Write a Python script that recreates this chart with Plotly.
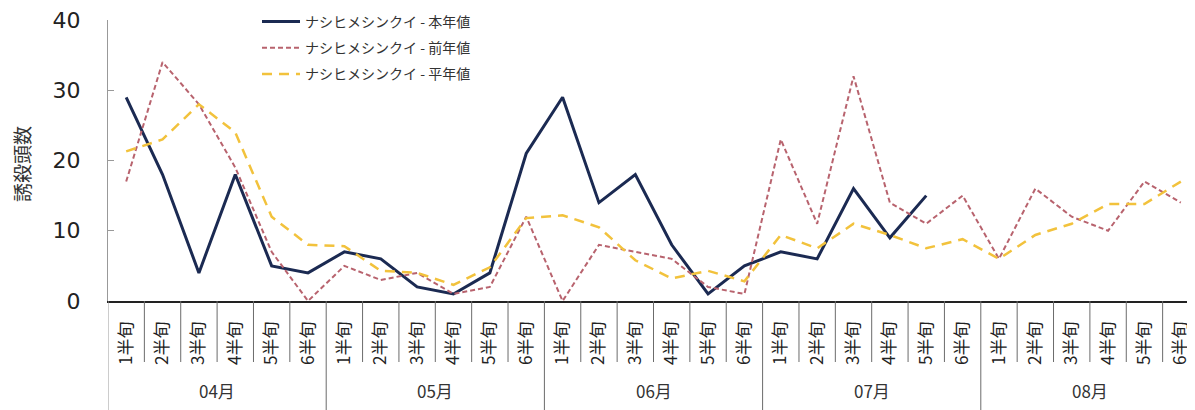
import plotly.graph_objects as go

months = ["04月", "05月", "06月", "07月", "08月"]
halves = ["1半旬", "2半旬", "3半旬", "4半旬", "5半旬", "6半旬"]

this_year = [29, 18, 4, 18, 5, 4,
             7, 6, 2, 1, 4, 21,
             29, 14, 18, 8, 1, 5,
             7, 6, 16, 9, 15, None,
             None, None, None, None, None, None]
prev_year = [17, 34, 28, 19, 7, 0,
             5, 3, 4, 1, 2, 12,
             0, 8, 7, 6, 2, 1,
             23, 11, 32, 14, 11, 15,
             6, 16, 12, 10, 17, 14]
normal_year = [21.3, 23, 28, 24, 12, 8,
               7.8, 4.3, 4, 2.3, 4.8, 11.8,
               12.2, 10.5, 5.8, 3.2, 4.3, 2.8,
               9.4, 7.5, 11, 9.4, 7.5, 8.8,
               6, 9.4, 11, 13.8, 13.8, 17]

series_names = ["ナシヒメシンクイ - 本年値", "ナシヒメシンクイ - 前年値", "ナシヒメシンクイ - 平年値"]

n = len(months) * len(halves)
xs = list(range(n))
tick_text = [h for m in months for h in halves]

fig = go.Figure()
fig.add_trace(go.Scatter(x=xs, y=this_year, mode="lines", name=series_names[0],
                         line=dict(color="#1B2A52", width=3), legendgroup="a",
                         connectgaps=False))
fig.add_trace(go.Scatter(x=xs, y=prev_year, mode="lines", name=series_names[1],
                         line=dict(color="#B8636E", width=2, dash="5px,3px"), legendgroup="b"))
fig.add_trace(go.Scatter(x=xs, y=normal_year, mode="lines", name=series_names[2],
                         line=dict(color="#F2C23C", width=2.5, dash="10px,7px"), legendgroup="c"))

# page offset (body margin) compensation
OFF = 8
W, H = 1191, 402
L, R, T, B = 100, 0, 12, 109
ph = H - T - B
pw = W - L - R

def py(page_y):
    return ((H - B) - (page_y - OFF)) / ph

def pxp(page_x):
    return ((page_x - OFF) - L) / pw

annotations = []
shapes = []
font_cjk = "Noto Sans CJK JP, DejaVu Sans, sans-serif"
div_color = "#6b6b6b"
for mi, m in enumerate(months):
    for hi in range(1, len(halves)):
        i = mi * len(halves) + hi
        shapes.append(dict(type="line", xref="x", yref="paper", x0=i - 0.5, x1=i - 0.5,
                           y0=0, y1=py(362), line=dict(color=div_color, width=1)))
    c = mi * len(halves) + (len(halves) - 1) / 2
    annotations.append(dict(x=c, y=py(390), xref="x", yref="paper", text=m, showarrow=False,
                            yanchor="middle",
                            font=dict(size=17, color="#333", family=font_cjk)))
    x_b = mi * len(halves) - 0.5
    shapes.append(dict(type="line", xref="x", yref="paper", x0=x_b, x1=x_b,
                       y0=0, y1=py(412), line=dict(color=div_color if mi else "#999", width=1)))
shapes.append(dict(type="line", xref="x", yref="paper", x0=n - 0.5, x1=n - 0.5,
                   y0=0, y1=py(412), line=dict(color=div_color, width=1)))

annotations.append(dict(x=pxp(21), y=py(164), xref="paper", yref="paper",
                        xanchor="center", yanchor="middle",
                        text="誘殺頭数", showarrow=False, textangle=-90,
                        font=dict(size=19, color="#333", family=font_cjk)))

fig.update_layout(
    width=W, height=H,
    margin=dict(l=L, r=R, t=T, b=B, pad=0, autoexpand=False),
    paper_bgcolor="white", plot_bgcolor="white",
    showlegend=True,
    legend=dict(x=pxp(257), y=py(6), xanchor="left", yanchor="top",
                font=dict(size=14, color="#333", family=font_cjk),
                itemwidth=38,
                tracegroupgap=5, bgcolor="rgba(0,0,0,0)"),
    xaxis=dict(range=[-0.5, n - 0.5], tickmode="array", tickvals=xs, ticktext=tick_text,
               tickangle=-90, ticks="", showgrid=False, automargin=False,
               ticklabelstandoff=12, ticklabeloverflow="allow",
               tickfont=dict(size=17, color="#222", family=font_cjk),
               zeroline=False, showline=True, linecolor="#222", linewidth=1.5, fixedrange=True),
    yaxis=dict(range=[0, 40], tickmode="array", tickvals=[0, 10, 20, 30, 40],
               showgrid=False, zeroline=False, showline=True,
               automargin=False, ticklabeloverflow="allow",
               linecolor="#999", linewidth=1, ticks="inside", ticklen=6, tickcolor="#999",
               tickfont=dict(size=22, color="#222", family="DejaVu Sans, Verdana, sans-serif"),
               ticklabelstandoff=22),
    annotations=annotations,
    shapes=shapes,
)

fig.write_html("out.html")
